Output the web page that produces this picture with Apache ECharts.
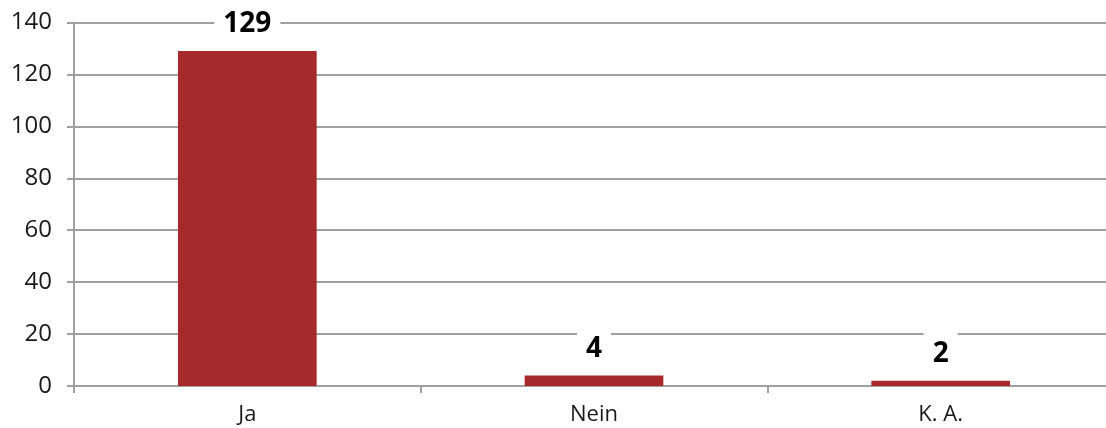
<!DOCTYPE html>
<html>
<head>
<meta charset="utf-8">
<style>html,body{margin:0;padding:0;background:#fff;}#c{width:1106px;height:428px;}</style>
<script src="https://cdn.jsdelivr.net/npm/echarts@6/dist/echarts.min.js"></script>
</head>
<body>
<div id="c"></div>
<script>
const categories = ["Ja", "Nein", "K. A."];
const values = [129, 4, 2];
const yTicks = { min: 0, max: 140, interval: 20 };

const chart = echarts.init(document.getElementById('c'), null, { renderer: 'canvas' });
const gridColor = '#a0a0a0';
chart.setOption({
  animation: false,
  backgroundColor: '#ffffff',
  grid: { left: 74, width: 1040, top: 22.5, bottom: 42, containLabel: false, outerBoundsMode: 'none' },
  xAxis: {
    type: 'category',
    data: categories,
    axisLine: { show: true, lineStyle: { color: gridColor, width: 2 } },
    axisTick: { show: true, length: 7, lineStyle: { color: gridColor, width: 2 } },
    axisLabel: { color: '#1a1a1a', fontSize: 22, fontFamily: 'Open Sans', margin: 18 },
    splitLine: { show: false }
  },
  yAxis: {
    type: 'value',
    min: yTicks.min, max: yTicks.max, interval: yTicks.interval,
    axisLine: { show: true, lineStyle: { color: gridColor, width: 2 } },
    axisTick: { show: true, length: 7, lineStyle: { color: gridColor, width: 2 } },
    axisLabel: { color: '#1a1a1a', fontSize: 24, fontFamily: 'Open Sans', margin: 22 },
    splitLine: { show: true, lineStyle: { color: gridColor, width: 2 } }
  },
  series: [{
    type: 'bar',
    data: values,
    barWidth: '40%',
    itemStyle: { color: '#a6292c' },
    label: {
      show: true,
      position: 'top',
      distance: 8,
      color: '#000',
      fontSize: 28,
      fontWeight: 'bold',
      fontFamily: 'Open Sans',
      backgroundColor: '#fff',
      padding: [9, 9, 4, 9],
      lineHeight: 30
    }
  }]
});
</script>
</body>
</html>
